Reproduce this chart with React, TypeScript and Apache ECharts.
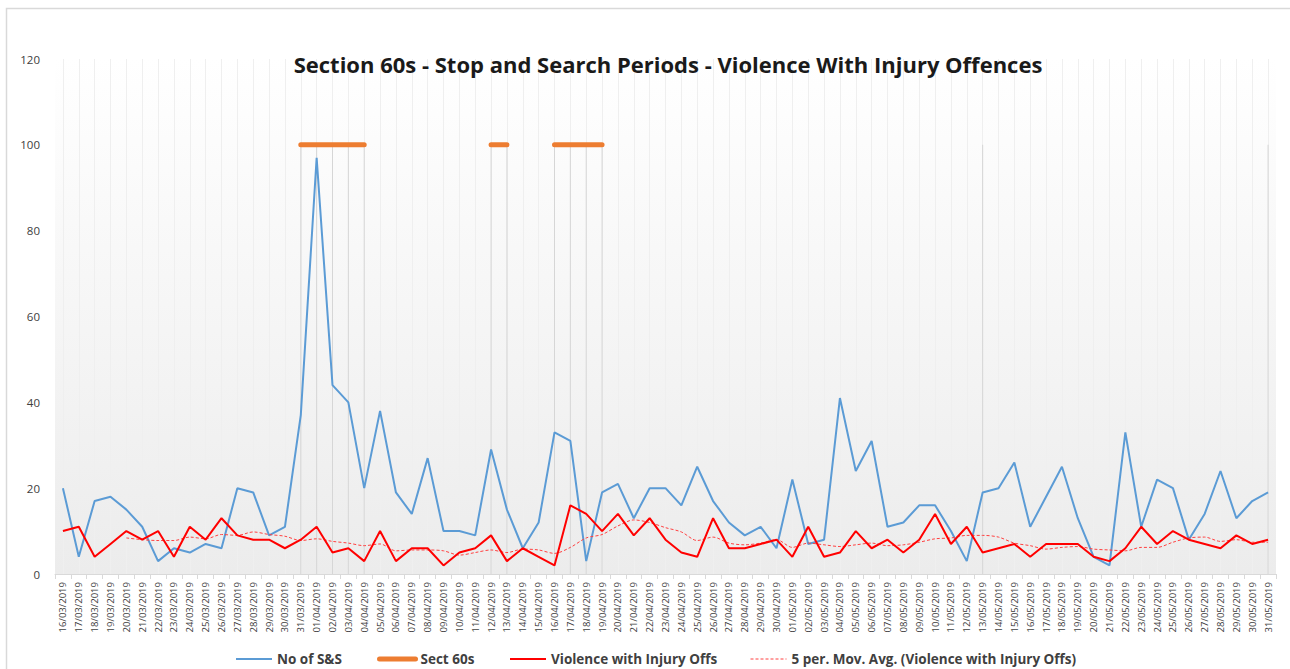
import React, { useEffect, useRef } from "react";
import * as echarts from "echarts";

const dates = [
  "16/03/2019","17/03/2019","18/03/2019","19/03/2019","20/03/2019","21/03/2019","22/03/2019","23/03/2019",
  "24/03/2019","25/03/2019","26/03/2019","27/03/2019","28/03/2019","29/03/2019","30/03/2019","31/03/2019",
  "01/04/2019","02/04/2019","03/04/2019","04/04/2019","05/04/2019","06/04/2019","07/04/2019","08/04/2019",
  "09/04/2019","10/04/2019","11/04/2019","12/04/2019","13/04/2019","14/04/2019","15/04/2019","16/04/2019",
  "17/04/2019","18/04/2019","19/04/2019","20/04/2019","21/04/2019","22/04/2019","23/04/2019","24/04/2019",
  "25/04/2019","26/04/2019","27/04/2019","28/04/2019","29/04/2019","30/04/2019","01/05/2019","02/05/2019",
  "03/05/2019","04/05/2019","05/05/2019","06/05/2019","07/05/2019","08/05/2019","09/05/2019","10/05/2019",
  "11/05/2019","12/05/2019","13/05/2019","14/05/2019","15/05/2019","16/05/2019","17/05/2019","18/05/2019",
  "19/05/2019","20/05/2019","21/05/2019","22/05/2019","23/05/2019","24/05/2019","25/05/2019","26/05/2019",
  "27/05/2019","28/05/2019","29/05/2019","30/05/2019","31/05/2019",
];

const stopAndSearch = [
  20, 4, 17, 18, 15, 11, 3, 6, 5, 7, 6, 20, 19, 9, 11, 37,
  97, 44, 40, 20, 38, 19, 14, 27, 10, 10, 9, 29, 15, 6, 12, 33,
  31, 3, 19, 21, 13, 20, 20, 16, 25, 17, 12, 9, 11, 6, 22, 7,
  8, 41, 24, 31, 11, 12, 16, 16, 10, 3, 19, 20, 26, 11, 18, 25,
  13, 4, 2, 33, 11, 22, 20, 8, 14, 24, 13, 17, 19,
];

const violenceWithInjury = [
  10, 11, 4, 7, 10, 8, 10, 4, 11, 8, 13, 9, 8, 8, 6, 8,
  11, 5, 6, 3, 10, 3, 6, 6, 2, 5, 6, 9, 3, 6, 4, 2,
  16, 14, 10, 14, 9, 13, 8, 5, 4, 13, 6, 6, 7, 8, 4, 11,
  4, 5, 10, 6, 8, 5, 8, 14, 7, 11, 5, 6, 7, 4, 7, 7,
  7, 4, 3, 6, 11, 7, 10, 8, 7, 6, 9, 7, 8,
];

// Days flagged as Section 60 authorisation periods (plotted at 100)
const sect60Dates = [
  "31/03/2019","01/04/2019","02/04/2019","03/04/2019","04/04/2019",
  "12/04/2019","13/04/2019",
  "16/04/2019","17/04/2019","18/04/2019","19/04/2019",
  "13/05/2019","31/05/2019",
];
const sect60Level = 100;

const yTicks = { min: 0, max: 120, interval: 20 };
const movingAvgPeriod = 5;

const FONT = "'Open Sans', 'Noto Sans', sans-serif";

export default function App() {
  const ref = useRef<HTMLDivElement>(null);

  useEffect(() => {
    if (!ref.current) return;
    const chart = echarts.init(ref.current, undefined, { renderer: "svg" });

    const sect60 = dates.map((d) => (sect60Dates.includes(d) ? sect60Level : null));
    // Excel "5 per. Mov. Avg." trendline of the violence series
    const movAvg = violenceWithInjury.map((_, i) => {
      if (i < movingAvgPeriod - 1) return null;
      let s = 0;
      for (let k = i - movingAvgPeriod + 1; k <= i; k++) s += violenceWithInjury[k];
      return +(s / movingAvgPeriod).toFixed(2);
    });

    const legendText = { fontFamily: FONT, fontSize: 13.5, fontWeight: "bold" as const, color: "#404040" };
    const mkLegend = (name: string, left: number, lineWidth: number) => ({
      data: [name],
      left,
      top: 647,
      itemWidth: 36,
      itemHeight: 10,
      itemGap: 5,
      textStyle: legendText,
      itemStyle: { opacity: 0 },
      lineStyle: { width: lineWidth },
      selectedMode: false,
    });

    chart.setOption({
      animation: false,
      backgroundColor: "#ffffff",
      title: {
        text: "Section 60s - Stop and Search Periods - Violence With Injury Offences",
        left: 663,
        textAlign: "center",
        top: 48,
        textStyle: { fontFamily: FONT, fontSize: 22, fontWeight: "bold", color: "#1a1a1a" },
      },
      graphic: [
        {
          type: "rect",
          shape: { x: 6.5, y: 8.5, width: 1300, height: 700 },
          style: { fill: "none", stroke: "#d9d9d9", lineWidth: 1.5 },
          silent: true,
        },
      ],
      legend: [
        mkLegend("No of S&S", 230, 2),
        mkLegend("Sect 60s", 372, 5),
        mkLegend("Violence with Injury Offs", 504, 2),
        mkLegend("5 per. Mov. Avg. (Violence with Injury Offs)", 745, 1),
      ],
      grid: {
        left: 55,
        right: 14,
        top: 59,
        bottom: 95,
        show: true,
        borderWidth: 0,
        backgroundColor: new echarts.graphic.LinearGradient(0, 0, 0, 1, [
          { offset: 0, color: "#ffffff" },
          { offset: 1, color: "#ececec" },
        ]),
      },
      xAxis: {
        type: "category",
        data: dates,
        boundaryGap: true,
        axisLine: { lineStyle: { color: "#d9d9d9" } },
        axisTick: { show: true, interval: 0, length: 5, lineStyle: { color: "#d9d9d9" } },
        axisLabel: {
          interval: 0,
          rotate: 90,
          fontFamily: FONT,
          fontSize: 9.5,
          color: "#404040",
          margin: 8,
        },
        splitLine: {
          show: true,
          interval: 0,
          alignWithLabel: true,
          lineStyle: { color: "#efefef", width: 1 },
        },
      },
      yAxis: {
        type: "value",
        min: yTicks.min,
        max: yTicks.max,
        interval: yTicks.interval,
        axisLine: { show: false },
        axisTick: { show: false },
        splitLine: { show: false },
        axisLabel: { fontFamily: FONT, fontSize: 11.5, color: "#404040", margin: 15 },
      },
      series: [
        {
          name: "dropLines",
          type: "bar",
          data: sect60,
          barWidth: 1,
          itemStyle: { color: "#d6d6d6" },
          silent: true,
          z: 1,
        },
        {
          name: "No of S&S",
          type: "line",
          data: stopAndSearch,
          symbol: "none",
          lineStyle: { color: "#5B9BD5", width: 2 },
          itemStyle: { color: "#5B9BD5" },
          z: 3,
        },
        {
          name: "Sect 60s",
          type: "line",
          data: sect60,
          symbol: "none",
          connectNulls: false,
          lineStyle: { color: "#ED7D31", width: 5, cap: "round" },
          itemStyle: { color: "#ED7D31" },
          z: 4,
        },
        {
          name: "Violence with Injury Offs",
          type: "line",
          data: violenceWithInjury,
          symbol: "none",
          lineStyle: { color: "#FF0000", width: 2 },
          itemStyle: { color: "#FF0000" },
          z: 5,
        },
        {
          name: "5 per. Mov. Avg. (Violence with Injury Offs)",
          type: "line",
          data: movAvg,
          symbol: "none",
          smooth: 0.3,
          lineStyle: { color: "#FF4040", width: 1, type: [3, 2] },
          itemStyle: { color: "#FF4040" },
          z: 4,
        },
      ],
    });

    return () => chart.dispose();
  }, []);

  return (
    <div
      ref={ref}
      style={{ position: "absolute", left: 0, top: 0, width: 1290, height: 669 }}
    />
  );
}
